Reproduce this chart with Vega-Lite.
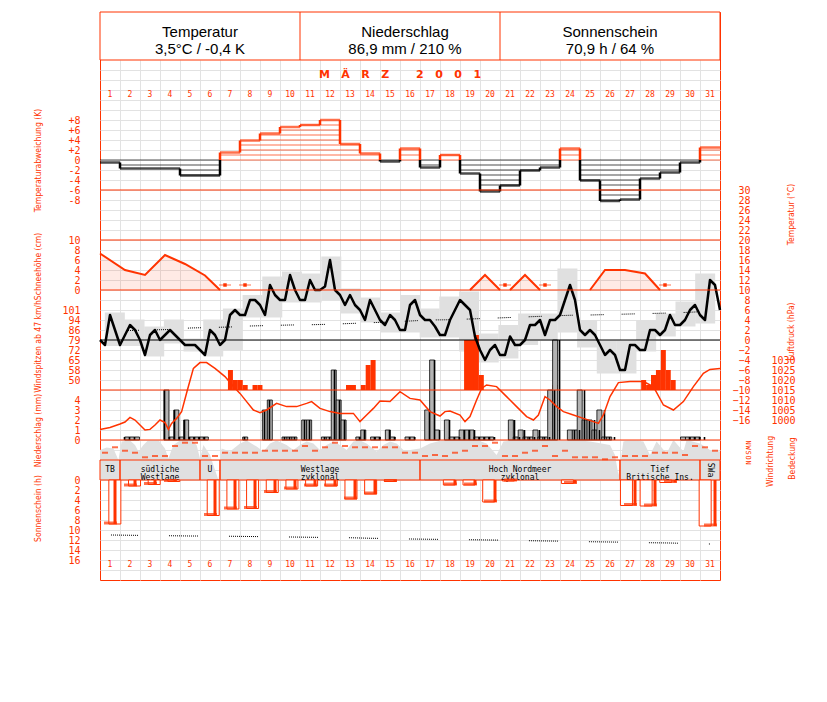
{
"$schema": "https://vega.github.io/schema/vega-lite/v6.json",
"autosize": "none",
"padding": {"left": 100, "top": 12, "right": 107, "bottom": 122},
"width": 620,
"height": 568,
"config": {
  "view": {"stroke": "#ff3300", "strokeWidth": 1},
  "axis": {"ticks": false, "domain": false, "grid": false, "labelColor": "#ff3300", "titleColor": "#ff3300", "labelFont": "DejaVu Sans Mono", "labelFontSize": 10, "titleFont": "Liberation Sans Narrow, Arial Narrow, DejaVu Sans Condensed, Liberation Sans, sans-serif", "titleFontSize": 8.5, "titleFontWeight": "normal", "labelPadding": 2, "labelFlush": false, "labelOverlap": false, "labelBound": false, "titleAngle": -90, "titleBaseline": "middle", "titleAlign": "center", "labelBaseline": "middle"}
},
"datasets": {
  "hdr": [
    {"section": "Temperatur", "summary": "3,5°C / -0,4 K"},
    {"section": "Niederschlag", "summary": "86,9 mm / 210 %"},
    {"section": "Sonnenschein", "summary": "70,9 h / 64 %"}
  ],
  "month": [{"label": "M\u00a0\u00a0\u00a0Ä\u00a0\u00a0\u00a0R\u00a0\u00a0\u00a0Z\u00a0\u00a0\u00a0\u00a0\u00a0\u00a0\u00a02\u00a0\u00a0\u00a00\u00a0\u00a0\u00a00\u00a0\u00a0\u00a01"}],
  "daily": [
    {"day":1,"dev":-0.5,"tmin":-1.2,"tmax":5.5,"tnorm":1.8,"sun":8.8,"sunmax":11.0},
    {"day":2,"dev":-1.7,"tmin":-1.2,"tmax":4.1,"tnorm":1.9,"sun":1.2,"sunmax":11.05},
    {"day":3,"dev":-1.7,"tmin":-3.3,"tmax":2.7,"tnorm":2.0,"sun":0.9,"sunmax":11.1},
    {"day":4,"dev":-1.7,"tmin":-0.7,"tmax":4.1,"tnorm":2.1,"sun":0.3,"sunmax":11.15},
    {"day":5,"dev":-3.1,"tmin":-2.3,"tmax":0.3,"tnorm":2.4,"sun":0,"sunmax":11.2},
    {"day":6,"dev":-3.1,"tmin":-3.3,"tmax":4.1,"tnorm":2.5,"sun":7.1,"sunmax":11.2},
    {"day":7,"dev":1.5,"tmin":-2.0,"tmax":6.3,"tnorm":2.6,"sun":5.8,"sunmax":11.25},
    {"day":8,"dev":3.9,"tmin":4.5,"tmax":9.0,"tnorm":2.8,"sun":5.7,"sunmax":11.3},
    {"day":9,"dev":5.3,"tmin":4.5,"tmax":12.7,"tnorm":2.9,"sun":2.5,"sunmax":11.35},
    {"day":10,"dev":6.6,"tmin":7.5,"tmax":13.7,"tnorm":3.0,"sun":1.8,"sunmax":11.4},
    {"day":11,"dev":7.0,"tmin":7.5,"tmax":13.3,"tnorm":3.05,"sun":1.2,"sunmax":11.45},
    {"day":12,"dev":8.0,"tmin":8.0,"tmax":16.7,"tnorm":3.15,"sun":1.2,"sunmax":11.5},
    {"day":13,"dev":3.2,"tmin":5.3,"tmax":10.3,"tnorm":3.3,"sun":3.8,"sunmax":11.55},
    {"day":14,"dev":1.3,"tmin":3.5,"tmax":8.5,"tnorm":3.45,"sun":2.8,"sunmax":11.65},
    {"day":15,"dev":-0.3,"tmin":1.5,"tmax":5.5,"tnorm":3.6,"sun":0.3,"sunmax":11.7},
    {"day":16,"dev":2.3,"tmin":1.5,"tmax":9.0,"tnorm":3.8,"sun":0,"sunmax":11.8},
    {"day":17,"dev":-1.5,"tmin":0.5,"tmax":6.3,"tnorm":4.0,"sun":0,"sunmax":11.85},
    {"day":18,"dev":1.0,"tmin":0.5,"tmax":8.7,"tnorm":4.05,"sun":1.0,"sunmax":11.9},
    {"day":19,"dev":-2.7,"tmin":-2.3,"tmax":9.7,"tnorm":4.2,"sun":1.0,"sunmax":11.95},
    {"day":20,"dev":-6.3,"tmin":-4.5,"tmax":1.3,"tnorm":4.35,"sun":4.4,"sunmax":12.0},
    {"day":21,"dev":-5.1,"tmin":-3.7,"tmax":3.0,"tnorm":4.5,"sun":0.2,"sunmax":12.05},
    {"day":22,"dev":-2.1,"tmin":-1.0,"tmax":5.3,"tnorm":4.65,"sun":0,"sunmax":12.15},
    {"day":23,"dev":-1.5,"tmin":0.0,"tmax":5.3,"tnorm":4.8,"sun":0,"sunmax":12.2},
    {"day":24,"dev":2.3,"tmin":1.5,"tmax":14.3,"tnorm":4.95,"sun":0.7,"sunmax":12.25},
    {"day":25,"dev":-4.1,"tmin":-1.5,"tmax":4.0,"tnorm":5.0,"sun":0,"sunmax":12.35},
    {"day":26,"dev":-8.2,"tmin":-6.7,"tmax":0.0,"tnorm":5.1,"sun":0,"sunmax":12.4},
    {"day":27,"dev":-7.9,"tmin":-6.7,"tmax":0.0,"tnorm":5.2,"sun":5.1,"sunmax":12.45},
    {"day":28,"dev":-3.7,"tmin":-2.3,"tmax":4.0,"tnorm":5.3,"sun":5.2,"sunmax":12.55},
    {"day":29,"dev":-2.5,"tmin":0.7,"tmax":5.3,"tnorm":5.4,"sun":0.5,"sunmax":12.6},
    {"day":30,"dev":-0.5,"tmin":2.7,"tmax":7.7,"tnorm":5.55,"sun":0,"sunmax":12.7},
    {"day":31,"dev":2.5,"tmin":3.3,"tmax":13.3,"tnorm":5.75,"sun":9.2,"sunmax":12.8}
  ],
  "temp": [
    {"t":0,"T":0},{"t":0.25,"T":-1},{"t":0.5,"T":5},{"t":0.75,"T":2},{"t":1.0,"T":-1},{"t":1.25,"T":1},{"t":1.5,"T":3},{"t":1.75,"T":2},
    {"t":2.0,"T":0},{"t":2.25,"T":-3},{"t":2.5,"T":1},{"t":2.75,"T":2},{"t":3.0,"T":0},{"t":3.25,"T":1},{"t":3.5,"T":2},{"t":3.75,"T":1},
    {"t":4.0,"T":0},{"t":4.25,"T":-1},{"t":4.5,"T":-1},{"t":4.75,"T":-1},{"t":5.0,"T":-2},{"t":5.25,"T":-3},{"t":5.5,"T":2},{"t":5.75,"T":1},
    {"t":6.0,"T":-1},{"t":6.25,"T":0},{"t":6.5,"T":5},{"t":6.75,"T":6},{"t":7.0,"T":5},{"t":7.25,"T":5},{"t":7.5,"T":8},{"t":7.75,"T":8},
    {"t":8.0,"T":7},{"t":8.25,"T":5},{"t":8.5,"T":11},{"t":8.75,"T":9},{"t":9.0,"T":8},{"t":9.25,"T":8},{"t":9.5,"T":13},{"t":9.75,"T":10},
    {"t":10.0,"T":8},{"t":10.25,"T":8},{"t":10.5,"T":12},{"t":10.75,"T":10},{"t":11.0,"T":10},{"t":11.25,"T":10.7},{"t":11.5,"T":16},{"t":11.75,"T":10},
    {"t":12.0,"T":9},{"t":12.25,"T":7},{"t":12.5,"T":9},{"t":12.75,"T":7},{"t":13.0,"T":6},{"t":13.25,"T":4},{"t":13.5,"T":8},{"t":13.75,"T":6},
    {"t":14.0,"T":4},{"t":14.25,"T":3},{"t":14.5,"T":5},{"t":14.75,"T":4},{"t":15.0,"T":2},{"t":15.25,"T":2},{"t":15.5,"T":7},{"t":15.75,"T":8},
    {"t":16.0,"T":5},{"t":16.25,"T":4},{"t":16.5,"T":4},{"t":16.75,"T":2.7},{"t":17.0,"T":1},{"t":17.25,"T":1},{"t":17.5,"T":4},{"t":17.75,"T":6},
    {"t":18.0,"T":8},{"t":18.25,"T":7},{"t":18.5,"T":6},{"t":18.75,"T":0.7},{"t":19.0,"T":-2},{"t":19.25,"T":-4},{"t":19.5,"T":-2},{"t":19.75,"T":-1},
    {"t":20.0,"T":-3},{"t":20.25,"T":-3},{"t":20.5,"T":0.7},{"t":20.75,"T":-1},{"t":21.0,"T":-1},{"t":21.25,"T":0},{"t":21.5,"T":3},{"t":21.75,"T":3},
    {"t":22.0,"T":4},{"t":22.25,"T":1},{"t":22.5,"T":4},{"t":22.75,"T":4},{"t":23.0,"T":5},{"t":23.25,"T":8},{"t":23.5,"T":11},{"t":23.75,"T":8},
    {"t":24.0,"T":2},{"t":24.25,"T":1},{"t":24.5,"T":2},{"t":24.75,"T":1},{"t":25.0,"T":-1},{"t":25.25,"T":-3},{"t":25.5,"T":-2},{"t":25.75,"T":-3},
    {"t":26.0,"T":-6},{"t":26.25,"T":-6},{"t":26.5,"T":-1},{"t":26.75,"T":-1},{"t":27.0,"T":-2},{"t":27.25,"T":-2},{"t":27.5,"T":2},{"t":27.75,"T":2},
    {"t":28.0,"T":1},{"t":28.25,"T":2},{"t":28.5,"T":5},{"t":28.75,"T":3},{"t":29.0,"T":3},{"t":29.25,"T":4},{"t":29.5,"T":6},{"t":29.75,"T":7},
    {"t":30.0,"T":5},{"t":30.25,"T":4},{"t":30.5,"T":12},{"t":30.75,"T":11},{"t":31.0,"T":6}
  ],
  "press": [
    {"t":0,"p":995.3},{"t":0.5,"p":996.3},{"t":1.0,"p":998},{"t":1.25,"p":999},{"t":1.5,"p":1001.3},{"t":1.75,"p":1000},{"t":2.0,"p":997.5},{"t":2.25,"p":995},
    {"t":2.5,"p":995.3},{"t":2.75,"p":997.5},{"t":3.0,"p":1000},{"t":3.25,"p":998.7},{"t":3.42,"p":995.3},{"t":3.58,"p":998.3},{"t":3.83,"p":1000.8},{"t":4.08,"p":1004.2},
    {"t":4.37,"p":1015},{"t":4.67,"p":1025.8},{"t":5.0,"p":1028.7},{"t":5.33,"p":1028.7},{"t":5.75,"p":1025.8},{"t":6.25,"p":1021.7},{"t":6.67,"p":1016.7},{"t":7.0,"p":1013.3},
    {"t":7.33,"p":1009.2},{"t":7.67,"p":1005},{"t":8.0,"p":1003.7},{"t":8.33,"p":1005},{"t":8.83,"p":1008.3},{"t":9.33,"p":1006.7},{"t":9.83,"p":1006.7},{"t":10.33,"p":1008.3},
    {"t":10.58,"p":1009.2},{"t":11.0,"p":1005.8},{"t":11.5,"p":1004.2},{"t":12.0,"p":1003.3},{"t":12.67,"p":1003.3},{"t":13.0,"p":999.2},{"t":13.33,"p":1002.5},{"t":13.67,"p":1005.8},
    {"t":14.0,"p":1009.5},{"t":14.5,"p":1009.2},{"t":15.0,"p":1014.2},{"t":15.5,"p":1010.8},{"t":16.0,"p":1010},{"t":16.5,"p":1004.2},{"t":17.0,"p":1002},{"t":17.25,"p":1004.2},
    {"t":17.5,"p":1004.5},{"t":18.0,"p":1002.5},{"t":18.25,"p":999.2},{"t":18.5,"p":1001.7},{"t":18.83,"p":1010},{"t":19.08,"p":1015.8},{"t":19.33,"p":1017.5},{"t":19.83,"p":1016.7},
    {"t":20.33,"p":1011.7},{"t":20.83,"p":1006.7},{"t":21.33,"p":1001.7},{"t":21.67,"p":1000},{"t":21.92,"p":1002.5},{"t":22.25,"p":1011.7},{"t":22.5,"p":1010},{"t":22.83,"p":1006.7},
    {"t":23.17,"p":1004.2},{"t":23.67,"p":1002.5},{"t":24.17,"p":1000.8},{"t":24.67,"p":999.2},{"t":24.92,"p":998.3},{"t":25.17,"p":1002.5},{"t":25.5,"p":1011.7},{"t":25.92,"p":1018.7},
    {"t":26.5,"p":1019.2},{"t":27.17,"p":1019.2},{"t":27.67,"p":1016.7},{"t":28.17,"p":1007.5},{"t":28.67,"p":1005},{"t":29.17,"p":1009.2},{"t":29.67,"p":1016.7},{"t":30.17,"p":1023.3},
    {"t":30.5,"p":1025.3},{"t":31.0,"p":1025.8}
  ],
  "gust": [
    {"t":6.375,"kmh":57.6},{"t":6.625,"kmh":50.4},{"t":6.875,"kmh":50.4},{"t":7.125,"kmh":46.8},{"t":7.625,"kmh":46.8},{"t":7.875,"kmh":46.8},
    {"t":12.375,"kmh":46.8},{"t":12.625,"kmh":46.8},{"t":13.125,"kmh":46.8},{"t":13.375,"kmh":61.2},{"t":13.625,"kmh":64.8},
    {"t":18.375,"kmh":79.2},{"t":18.625,"kmh":79.2},{"t":18.875,"kmh":82.8},{"t":19.125,"kmh":54},{"t":22.875,"kmh":46.8},
    {"t":27.375,"kmh":50.4},{"t":27.625,"kmh":46.8},{"t":27.875,"kmh":54},{"t":28.125,"kmh":57.6},{"t":28.375,"kmh":72},{"t":28.625,"kmh":57.6},{"t":28.875,"kmh":50.4}
  ],
  "precip": [
    {"t":1.125,"mm":0.3},{"t":1.375,"mm":0.3},{"t":1.625,"mm":0.3},
    {"t":3.125,"mm":5.0},{"t":3.375,"mm":0.3},{"t":3.625,"mm":3.0},{"t":3.875,"mm":0.3},
    {"t":4.125,"mm":2.0},{"t":4.375,"mm":0.3},{"t":4.625,"mm":0.3},{"t":4.875,"mm":0.3},{"t":5.125,"mm":0.3},
    {"t":7.125,"mm":0.3},{"t":8.125,"mm":3.0},{"t":8.375,"mm":4.0},
    {"t":9.125,"mm":0.3},{"t":9.375,"mm":0.3},{"t":9.625,"mm":0.3},{"t":10.125,"mm":2.0},{"t":10.375,"mm":2.0},
    {"t":11.125,"mm":0.3},{"t":11.375,"mm":0.3},{"t":11.625,"mm":7.0},{"t":11.875,"mm":4.0},
    {"t":12.125,"mm":2.0},{"t":12.875,"mm":0.3},{"t":13.125,"mm":1.0},{"t":13.625,"mm":0.3},{"t":13.875,"mm":0.3},
    {"t":14.375,"mm":1.0},{"t":14.625,"mm":0.3},{"t":15.375,"mm":0.3},{"t":15.625,"mm":0.3},
    {"t":16.375,"mm":3.0},{"t":16.625,"mm":8.0},{"t":16.875,"mm":1.0},
    {"t":17.375,"mm":2.0},{"t":17.625,"mm":0.3},{"t":17.875,"mm":0.3},
    {"t":18.125,"mm":1.0},{"t":18.375,"mm":1.0},{"t":18.625,"mm":1.0},{"t":18.875,"mm":0.3},
    {"t":19.125,"mm":0.3},{"t":19.375,"mm":0.3},{"t":19.625,"mm":0.3},
    {"t":20.625,"mm":2.0},{"t":20.875,"mm":0.3},
    {"t":21.125,"mm":1.0},{"t":21.375,"mm":0.3},{"t":21.625,"mm":0.3},{"t":21.875,"mm":1.0},
    {"t":22.125,"mm":0.3},{"t":22.375,"mm":0.3},{"t":22.625,"mm":5.0},{"t":22.875,"mm":10.0},
    {"t":23.625,"mm":1.0},{"t":23.875,"mm":1.0},
    {"t":24.125,"mm":5.0},{"t":24.375,"mm":2.0},{"t":24.625,"mm":2.0},{"t":24.875,"mm":1.0},
    {"t":25.125,"mm":3.0},{"t":25.375,"mm":0.3},{"t":25.625,"mm":0.3},
    {"t":29.375,"mm":0.3},{"t":29.625,"mm":0.3},{"t":29.875,"mm":0.3},{"t":30.125,"mm":0.3}
  ],
  "snow": [
    {"ep":1,"t":0,"cm":7.3},{"ep":1,"t":1.25,"cm":4.0},{"ep":1,"t":2.25,"cm":3.0},{"ep":1,"t":3.25,"cm":7.0},{"ep":1,"t":4.25,"cm":5.2},{"ep":1,"t":5.25,"cm":2.9},{"ep":1,"t":6.0,"cm":0},
    {"ep":2,"t":18.5,"cm":0},{"ep":2,"t":19.25,"cm":3},{"ep":2,"t":20.0,"cm":0},
    {"ep":3,"t":20.5,"cm":0},{"ep":3,"t":21.25,"cm":3},{"ep":3,"t":22.0,"cm":0},
    {"ep":4,"t":24.5,"cm":0},{"ep":4,"t":25.25,"cm":4},{"ep":4,"t":26.25,"cm":4},{"ep":4,"t":27.25,"cm":3.3},{"ep":4,"t":28.0,"cm":0}
  ],
  "patches": [{"t":6.25,"cm":1},{"t":7.25,"cm":1},{"t":20.25,"cm":1},{"t":22.25,"cm":1},{"t":28.25,"cm":1}],
  "wind": [
    {"t":0.25,"dir":167},{"t":0.75,"dir":265},{"t":1.25,"dir":203},{"t":1.75,"dir":167},{"t":2.25,"dir":85},{"t":2.75,"dir":108},{"t":3.25,"dir":108},{"t":3.75,"dir":288},
    {"t":4.25,"dir":347},{"t":4.75,"dir":347},{"t":5.25,"dir":108},{"t":5.75,"dir":108},{"t":6.25,"dir":167},{"t":6.75,"dir":167},{"t":7.25,"dir":167},{"t":7.75,"dir":167},
    {"t":8.25,"dir":203},{"t":8.75,"dir":203},{"t":9.25,"dir":203},{"t":9.75,"dir":203},{"t":10.25,"dir":288},{"t":10.75,"dir":203},{"t":11.25,"dir":265},{"t":11.75,"dir":347},
    {"t":12.25,"dir":288},{"t":12.75,"dir":265},{"t":13.25,"dir":265},{"t":13.75,"dir":265},{"t":14.25,"dir":265},{"t":14.75,"dir":265},{"t":15.25,"dir":167},{"t":15.75,"dir":167},
    {"t":16.25,"dir":108},{"t":16.75,"dir":126},{"t":17.25,"dir":108},{"t":17.75,"dir":167},{"t":18.25,"dir":203},{"t":18.75,"dir":288},{"t":19.25,"dir":288},{"t":19.75,"dir":347},
    {"t":20.25,"dir":108},{"t":20.75,"dir":108},{"t":21.25,"dir":167},{"t":21.75,"dir":203},{"t":22.25,"dir":288},{"t":22.75,"dir":108},{"t":23.25,"dir":203},{"t":23.75,"dir":85},
    {"t":24.25,"dir":85},{"t":24.75,"dir":85},{"t":25.25,"dir":49},{"t":25.75,"dir":85},{"t":26.25,"dir":108},{"t":26.75,"dir":108},{"t":27.25,"dir":108},{"t":27.75,"dir":167},
    {"t":28.25,"dir":167},{"t":28.75,"dir":167},{"t":29.25,"dir":126},{"t":29.75,"dir":288},{"t":30.25,"dir":265},{"t":30.75,"dir":203}
  ],
  "cloud": [
    {"t":0,"octa":6},{"t":0.33,"octa":6.5},{"t":0.67,"octa":6.3},{"t":0.92,"octa":4},{"t":1.08,"octa":7.7},{"t":1.5,"octa":7.9},{"t":1.75,"octa":7},{"t":1.92,"octa":5.7},
    {"t":2.17,"octa":7},{"t":2.42,"octa":8},{"t":2.92,"octa":8},{"t":3.25,"octa":6.3},{"t":3.42,"octa":4.3},{"t":3.67,"octa":7},{"t":4.0,"octa":7.9},{"t":4.58,"octa":7.9},
    {"t":4.83,"octa":7},{"t":5.0,"octa":4.3},{"t":5.17,"octa":7},{"t":5.5,"octa":5},{"t":5.92,"octa":0},{"t":6.08,"octa":6.3},{"t":6.5,"octa":5.7},{"t":7.0,"octa":7.3},
    {"t":7.33,"octa":7.9},{"t":7.83,"octa":6.7},{"t":8.17,"octa":5.7},{"t":8.5,"octa":7.3},{"t":8.83,"octa":7.9},{"t":9.33,"octa":7},{"t":9.67,"octa":6},{"t":10.0,"octa":7},
    {"t":10.33,"octa":7.7},{"t":10.67,"octa":7.3},{"t":11.0,"octa":6},{"t":11.33,"octa":7},{"t":11.67,"octa":7.7},{"t":12.0,"octa":7},{"t":12.33,"octa":6},{"t":12.67,"octa":7.7},
    {"t":13.0,"octa":7.9},{"t":13.33,"octa":7.3},{"t":13.83,"octa":5.7},{"t":14.17,"octa":7},{"t":14.5,"octa":7.7},{"t":14.83,"octa":7.3},{"t":15.17,"octa":6},{"t":15.5,"octa":6},
    {"t":16.0,"octa":6.3},{"t":16.5,"octa":7.3},{"t":17.17,"octa":8},{"t":17.67,"octa":8},{"t":18.17,"octa":8},{"t":18.83,"octa":8},{"t":19.33,"octa":7.3},{"t":19.83,"octa":5},
    {"t":20.17,"octa":7.7},{"t":20.83,"octa":8},{"t":21.83,"octa":8},{"t":22.5,"octa":8},{"t":23.17,"octa":8},{"t":23.83,"octa":8},{"t":24.5,"octa":7.7},{"t":25.5,"octa":7},
    {"t":25.75,"octa":5},{"t":25.92,"octa":1},{"t":26.17,"octa":7.7},{"t":26.5,"octa":8},{"t":27.17,"octa":7.7},{"t":27.5,"octa":5},{"t":27.83,"octa":7.7},{"t":28.33,"octa":5.3},
    {"t":28.67,"octa":8},{"t":29.17,"octa":5.7},{"t":29.33,"octa":8},{"t":30.0,"octa":7.3},{"t":30.5,"octa":6},{"t":31.0,"octa":5.7}
  ],
  "types": [
    {"label":"TB","from":0,"to":1},
    {"label":"südliche\nWestlage","from":1,"to":5},
    {"label":"U","from":5,"to":6},
    {"label":"Westlage\nzyklonal","from":6,"to":16},
    {"label":"Hoch Nordmeer\nzyklonal","from":16,"to":26},
    {"label":"Tief\nBritische Ins.","from":26,"to":30},
    {"label":"SWa","from":30,"to":31}
  ]
},
"resolve": {"scale": {"x": "independent", "y": "independent"}},
"layer": [
  {"data": {"values": [{"g": 0}]}, "mark": {"type": "point", "opacity": 0},
   "encoding": {
     "x": {"field": "g", "type": "quantitative", "scale": {"domain": [0, 31], "nice": false, "zero": false}, "axis": {"orient": "top", "values": [1,2,3,4,5,6,7,8,9,10,11,12,13,14,15,16,17,18,19,20,21,22,23,24,25,26,27,28,29,30], "grid": true, "gridColor": "#e2e2e2", "labels": false, "title": null}},
     "y": {"field": "g", "type": "quantitative", "scale": {"domain": [0, 52], "range": [48, 568], "nice": false, "zero": false}, "axis": {"orient": "left", "values": [1,2,3,4,5,6,7,8,9,10,11,12,13,14,15,16,17,18,19,20,21,22,23,24,25,26,27,28,29,30,31,32,33,34,35,36,37,38,39,40,41,42,43,44,45,46,47,48,49,50,51], "grid": true, "gridColor": "#e2e2e2", "labels": false, "title": null}}}},

  {"data": {"values": [{}]}, "mark": {"type": "rect", "color": "white"},
   "encoding": {"y": {"datum": 0, "type": "quantitative", "scale": {"domain": [0, 1], "range": [0, 48], "nice": false, "zero": false}, "axis": null}, "y2": {"datum": 1}}},
  {"data": {"values": [{}]}, "mark": {"type": "rect", "filled": false, "color": "#ff3300", "strokeWidth": 1},
   "encoding": {"y": {"datum": 0, "type": "quantitative", "scale": {"domain": [0, 1], "range": [0, 48], "nice": false, "zero": false}, "axis": null}, "y2": {"datum": 1}}},
  {"data": {"values": [{}]}, "mark": {"type": "rule", "color": "#ff3300", "strokeWidth": 1},
   "encoding": {"x": {"datum": 10, "type": "quantitative", "scale": {"domain": [0, 31], "nice": false, "zero": false}, "axis": null},
     "y": {"datum": 0, "type": "quantitative", "scale": {"domain": [0, 1], "range": [0, 48], "nice": false, "zero": false}, "axis": null}, "y2": {"datum": 1}}},
  {"data": {"values": [{}]}, "mark": {"type": "rule", "color": "#ff3300", "strokeWidth": 1},
   "encoding": {"x": {"datum": 20, "type": "quantitative", "scale": {"domain": [0, 31], "nice": false, "zero": false}, "axis": null},
     "y": {"datum": 0, "type": "quantitative", "scale": {"domain": [0, 1], "range": [0, 48], "nice": false, "zero": false}, "axis": null}, "y2": {"datum": 1}}},
  {"data": {"name": "hdr"}, "transform": [{"fold": ["section", "summary"], "as": ["line", "txt"]}],
   "mark": {"type": "text", "font": "Liberation Sans", "fontSize": 15, "color": "black", "baseline": "middle", "align": "center"},
   "encoding": {
     "x": {"field": "section", "type": "nominal", "scale": {"type": "point", "domain": ["Temperatur", "Niederschlag", "Sonnenschein"], "range": [100, 510], "padding": 0}, "axis": null},
     "y": {"field": "line", "type": "nominal", "scale": {"type": "point", "domain": ["section", "summary"], "range": [20, 37], "padding": 0}, "axis": null},
     "text": {"field": "txt"}}},

  {"data": {"name": "cloud"}, "mark": {"type": "area", "color": "#e0e0e0"},
   "encoding": {
     "x": {"field": "t", "type": "quantitative", "scale": {"domain": [0, 31], "nice": false, "zero": false}, "axis": null},
     "y": {"field": "octa", "type": "quantitative", "scale": {"domain": [0, 8], "range": [468, 428], "nice": false, "zero": false}, "axis": {"orient": "right", "labels": false, "title": "Bedeckung", "titleX": 71, "titleY": 446}},
     "y2": {"datum": 0}}},

  {"data": {"name": "daily"}, "mark": {"type": "bar", "width": 20, "color": "#e0e0e0"},
   "encoding": {
     "x": {"field": "day", "type": "quantitative", "scale": {"domain": [0.5, 31.5], "nice": false, "zero": false}, "axis": null},
     "y": {"field": "tmin", "type": "quantitative", "scale": {"domain": [-16, 30], "range": [408, 178], "nice": false, "zero": false}, "axis": {"orient": "right", "values": [30,28,26,24,22,20,18,16,14,12,10,8,6,4,2,0,-2,-4,-6,-8,-10,-12,-14,-16], "labelAlign": "right", "labelPadding": 30, "title": "Temperatur (°C)", "titleX": 70, "titleY": 202}},
     "y2": {"field": "tmax"}}},

  {"data": {"name": "daily"}, "mark": {"type": "tick", "orient": "horizontal", "size": 20, "thickness": 1, "color": "#ff3300"}, "transform": [{"filter": "datum.dev > 0"}], "encoding": {"x": {"field": "day", "type": "quantitative", "scale": {"domain": [0.5, 31.5], "nice": false, "zero": false}, "axis": null}, "y": {"datum": 0, "type": "quantitative", "scale": {"domain": [-8, 8], "range": [188, 108], "nice": false, "zero": false}, "axis": null}}},
  {"data": {"name": "daily"}, "mark": {"type": "tick", "orient": "horizontal", "size": 20, "thickness": 1, "color": "#ff3300"}, "transform": [{"filter": "datum.dev >= 1"}], "encoding": {"x": {"field": "day", "type": "quantitative", "scale": {"domain": [0.5, 31.5], "nice": false, "zero": false}, "axis": null}, "y": {"datum": 1, "type": "quantitative", "scale": {"domain": [-8, 8], "range": [188, 108], "nice": false, "zero": false}, "axis": null}}},
  {"data": {"name": "daily"}, "mark": {"type": "tick", "orient": "horizontal", "size": 20, "thickness": 1, "color": "#ff3300"}, "transform": [{"filter": "datum.dev >= 2"}], "encoding": {"x": {"field": "day", "type": "quantitative", "scale": {"domain": [0.5, 31.5], "nice": false, "zero": false}, "axis": null}, "y": {"datum": 2, "type": "quantitative", "scale": {"domain": [-8, 8], "range": [188, 108], "nice": false, "zero": false}, "axis": null}}},
  {"data": {"name": "daily"}, "mark": {"type": "tick", "orient": "horizontal", "size": 20, "thickness": 1, "color": "#ff3300"}, "transform": [{"filter": "datum.dev >= 3"}], "encoding": {"x": {"field": "day", "type": "quantitative", "scale": {"domain": [0.5, 31.5], "nice": false, "zero": false}, "axis": null}, "y": {"datum": 3, "type": "quantitative", "scale": {"domain": [-8, 8], "range": [188, 108], "nice": false, "zero": false}, "axis": null}}},
  {"data": {"name": "daily"}, "mark": {"type": "tick", "orient": "horizontal", "size": 20, "thickness": 1, "color": "#ff3300"}, "transform": [{"filter": "datum.dev >= 4"}], "encoding": {"x": {"field": "day", "type": "quantitative", "scale": {"domain": [0.5, 31.5], "nice": false, "zero": false}, "axis": null}, "y": {"datum": 4, "type": "quantitative", "scale": {"domain": [-8, 8], "range": [188, 108], "nice": false, "zero": false}, "axis": null}}},
  {"data": {"name": "daily"}, "mark": {"type": "tick", "orient": "horizontal", "size": 20, "thickness": 1, "color": "#ff3300"}, "transform": [{"filter": "datum.dev >= 5"}], "encoding": {"x": {"field": "day", "type": "quantitative", "scale": {"domain": [0.5, 31.5], "nice": false, "zero": false}, "axis": null}, "y": {"datum": 5, "type": "quantitative", "scale": {"domain": [-8, 8], "range": [188, 108], "nice": false, "zero": false}, "axis": null}}},
  {"data": {"name": "daily"}, "mark": {"type": "tick", "orient": "horizontal", "size": 20, "thickness": 1, "color": "#ff3300"}, "transform": [{"filter": "datum.dev >= 6"}], "encoding": {"x": {"field": "day", "type": "quantitative", "scale": {"domain": [0.5, 31.5], "nice": false, "zero": false}, "axis": null}, "y": {"datum": 6, "type": "quantitative", "scale": {"domain": [-8, 8], "range": [188, 108], "nice": false, "zero": false}, "axis": null}}},
  {"data": {"name": "daily"}, "mark": {"type": "tick", "orient": "horizontal", "size": 20, "thickness": 1, "color": "#ff3300"}, "transform": [{"filter": "datum.dev >= 7"}], "encoding": {"x": {"field": "day", "type": "quantitative", "scale": {"domain": [0.5, 31.5], "nice": false, "zero": false}, "axis": null}, "y": {"datum": 7, "type": "quantitative", "scale": {"domain": [-8, 8], "range": [188, 108], "nice": false, "zero": false}, "axis": null}}},
  {"data": {"name": "daily"}, "mark": {"type": "tick", "orient": "horizontal", "size": 20, "thickness": 1, "color": "black"}, "transform": [{"filter": "datum.dev <= 0"}], "encoding": {"x": {"field": "day", "type": "quantitative", "scale": {"domain": [0.5, 31.5], "nice": false, "zero": false}, "axis": null}, "y": {"datum": 0, "type": "quantitative", "scale": {"domain": [-8, 8], "range": [188, 108], "nice": false, "zero": false}, "axis": null}}},
  {"data": {"name": "daily"}, "mark": {"type": "tick", "orient": "horizontal", "size": 20, "thickness": 1, "color": "black"}, "transform": [{"filter": "datum.dev <= -1"}], "encoding": {"x": {"field": "day", "type": "quantitative", "scale": {"domain": [0.5, 31.5], "nice": false, "zero": false}, "axis": null}, "y": {"datum": -1, "type": "quantitative", "scale": {"domain": [-8, 8], "range": [188, 108], "nice": false, "zero": false}, "axis": null}}},
  {"data": {"name": "daily"}, "mark": {"type": "tick", "orient": "horizontal", "size": 20, "thickness": 1, "color": "black"}, "transform": [{"filter": "datum.dev <= -2"}], "encoding": {"x": {"field": "day", "type": "quantitative", "scale": {"domain": [0.5, 31.5], "nice": false, "zero": false}, "axis": null}, "y": {"datum": -2, "type": "quantitative", "scale": {"domain": [-8, 8], "range": [188, 108], "nice": false, "zero": false}, "axis": null}}},
  {"data": {"name": "daily"}, "mark": {"type": "tick", "orient": "horizontal", "size": 20, "thickness": 1, "color": "black"}, "transform": [{"filter": "datum.dev <= -3"}], "encoding": {"x": {"field": "day", "type": "quantitative", "scale": {"domain": [0.5, 31.5], "nice": false, "zero": false}, "axis": null}, "y": {"datum": -3, "type": "quantitative", "scale": {"domain": [-8, 8], "range": [188, 108], "nice": false, "zero": false}, "axis": null}}},
  {"data": {"name": "daily"}, "mark": {"type": "tick", "orient": "horizontal", "size": 20, "thickness": 1, "color": "black"}, "transform": [{"filter": "datum.dev <= -4"}], "encoding": {"x": {"field": "day", "type": "quantitative", "scale": {"domain": [0.5, 31.5], "nice": false, "zero": false}, "axis": null}, "y": {"datum": -4, "type": "quantitative", "scale": {"domain": [-8, 8], "range": [188, 108], "nice": false, "zero": false}, "axis": null}}},
  {"data": {"name": "daily"}, "mark": {"type": "tick", "orient": "horizontal", "size": 20, "thickness": 1, "color": "black"}, "transform": [{"filter": "datum.dev <= -5"}], "encoding": {"x": {"field": "day", "type": "quantitative", "scale": {"domain": [0.5, 31.5], "nice": false, "zero": false}, "axis": null}, "y": {"datum": -5, "type": "quantitative", "scale": {"domain": [-8, 8], "range": [188, 108], "nice": false, "zero": false}, "axis": null}}},
  {"data": {"name": "daily"}, "mark": {"type": "tick", "orient": "horizontal", "size": 20, "thickness": 1, "color": "black"}, "transform": [{"filter": "datum.dev <= -6"}], "encoding": {"x": {"field": "day", "type": "quantitative", "scale": {"domain": [0.5, 31.5], "nice": false, "zero": false}, "axis": null}, "y": {"datum": -6, "type": "quantitative", "scale": {"domain": [-8, 8], "range": [188, 108], "nice": false, "zero": false}, "axis": null}}},
  {"data": {"name": "daily"}, "mark": {"type": "tick", "orient": "horizontal", "size": 20, "thickness": 1, "color": "black"}, "transform": [{"filter": "datum.dev <= -7"}], "encoding": {"x": {"field": "day", "type": "quantitative", "scale": {"domain": [0.5, 31.5], "nice": false, "zero": false}, "axis": null}, "y": {"datum": -7, "type": "quantitative", "scale": {"domain": [-8, 8], "range": [188, 108], "nice": false, "zero": false}, "axis": null}}},
  {"data": {"name": "daily"}, "mark": {"type": "tick", "orient": "horizontal", "size": 20, "thickness": 1, "color": "black"}, "transform": [{"filter": "datum.dev <= -8"}], "encoding": {"x": {"field": "day", "type": "quantitative", "scale": {"domain": [0.5, 31.5], "nice": false, "zero": false}, "axis": null}, "y": {"datum": -8, "type": "quantitative", "scale": {"domain": [-8, 8], "range": [188, 108], "nice": false, "zero": false}, "axis": null}}},

  {"data": {"name": "daily"}, "transform": [{"filter": "datum.dev > 0"}], "mark": {"type": "tick", "orient": "horizontal", "size": 20, "thickness": 2.5, "color": "#ff3300"},
   "encoding": {"x": {"field": "day", "type": "quantitative", "scale": {"domain": [0.5, 31.5], "nice": false, "zero": false}, "axis": null},
     "y": {"field": "dev", "type": "quantitative", "scale": {"domain": [-8, 8], "range": [188, 108], "nice": false, "zero": false}, "axis": {"orient": "left", "offset": 18, "values": [-8,-6,-4,-2,0,2,4,6,8], "labelExpr": "datum.value > 0 ? '+' + datum.value : '' + datum.value", "title": "Temperaturabweichung (K)", "titleX": -45, "titleY": 148}}}},
  {"data": {"name": "daily"}, "transform": [{"filter": "datum.dev <= 0"}], "mark": {"type": "tick", "orient": "horizontal", "size": 20, "thickness": 2.5, "color": "black"},
   "encoding": {"x": {"field": "day", "type": "quantitative", "scale": {"domain": [0.5, 31.5], "nice": false, "zero": false}, "axis": null},
     "y": {"field": "dev", "type": "quantitative", "scale": {"domain": [-8, 8], "range": [188, 108], "nice": false, "zero": false}, "axis": null}}},
  {"data": {"name": "daily"}, "transform": [{"window": [{"op": "lead", "field": "dev", "as": "next"}], "sort": [{"field": "day", "order": "ascending"}]}, {"filter": "datum.next != null"}],
   "mark": {"type": "rule", "strokeWidth": 2.5, "color": "#ff3300"},
   "encoding": {"x": {"field": "day", "type": "quantitative", "scale": {"domain": [0.5, 31.5], "nice": false, "zero": false}, "axis": null}, "xOffset": {"value": 10},
     "y": {"field": "dev", "type": "quantitative", "scale": {"domain": [0, 10], "range": [148, 98], "clamp": true, "nice": false, "zero": false}, "axis": null}, "y2": {"field": "next"}}},
  {"data": {"name": "daily"}, "transform": [{"window": [{"op": "lead", "field": "dev", "as": "next"}], "sort": [{"field": "day", "order": "ascending"}]}, {"filter": "datum.next != null"}],
   "mark": {"type": "rule", "strokeWidth": 2.5, "color": "black"},
   "encoding": {"x": {"field": "day", "type": "quantitative", "scale": {"domain": [0.5, 31.5], "nice": false, "zero": false}, "axis": null}, "xOffset": {"value": 10},
     "y": {"field": "dev", "type": "quantitative", "scale": {"domain": [-10, 0], "range": [198, 148], "clamp": true, "nice": false, "zero": false}, "axis": null}, "y2": {"field": "next"}}},

  {"data": {"name": "snow"}, "mark": {"type": "area", "color": "#ff3300", "opacity": 0.1},
   "encoding": {"x": {"field": "t", "type": "quantitative", "scale": {"domain": [0, 31], "nice": false, "zero": false}, "axis": null},
     "y": {"field": "cm", "type": "quantitative", "scale": {"domain": [0, 10], "range": [278, 228], "nice": false, "zero": false}, "axis": null}, "y2": {"datum": 0}, "detail": {"field": "ep"}}},
  {"data": {"name": "snow"}, "mark": {"type": "line", "color": "#ff3300", "strokeWidth": 2},
   "encoding": {"x": {"field": "t", "type": "quantitative", "scale": {"domain": [0, 31], "nice": false, "zero": false}, "axis": null},
     "y": {"field": "cm", "type": "quantitative", "scale": {"domain": [0, 10], "range": [278, 228], "nice": false, "zero": false}, "axis": {"orient": "left", "offset": 18, "values": [0,2,4,6,8,10], "title": "Schneehöhe (cm)", "titleX": -45, "titleY": 254}}, "detail": {"field": "ep"}}},
  {"data": {"name": "patches"}, "mark": {"type": "tick", "orient": "horizontal", "size": 12, "thickness": 1, "color": "#ff3300"},
   "encoding": {"x": {"field": "t", "type": "quantitative", "scale": {"domain": [0, 31], "nice": false, "zero": false}, "axis": null},
     "y": {"field": "cm", "type": "quantitative", "scale": {"domain": [0, 10], "range": [278, 228], "nice": false, "zero": false}, "axis": null}}},
  {"data": {"name": "patches"}, "mark": {"type": "square", "size": 12, "color": "#ff3300", "opacity": 1},
   "encoding": {"x": {"field": "t", "type": "quantitative", "scale": {"domain": [0, 31], "nice": false, "zero": false}, "axis": null},
     "y": {"field": "cm", "type": "quantitative", "scale": {"domain": [0, 10], "range": [278, 228], "nice": false, "zero": false}, "axis": null}}},

  {"data": {"name": "gust"}, "mark": {"type": "bar", "width": 5, "color": "#ff3300"},
   "encoding": {"x": {"field": "t", "type": "quantitative", "scale": {"domain": [0, 31], "nice": false, "zero": false}, "axis": null},
     "y": {"field": "kmh", "type": "quantitative", "scale": {"domain": [43.2, 100.8], "range": [378, 298], "nice": false, "zero": false}, "axis": {"orient": "left", "offset": 18, "values": [50.4,57.6,64.8,72,79.2,86.4,93.6,100.8], "format": ".0f", "title": "Windspitzen ab 47 km/h", "titleX": -45, "titleY": 334}},
     "y2": {"datum": 43.2}}},

  {"data": {"name": "precip"}, "mark": {"type": "bar", "width": 5, "fill": "#b4b4b4", "stroke": "black", "strokeWidth": 0.8},
   "encoding": {"x": {"field": "t", "type": "quantitative", "scale": {"domain": [0, 31], "nice": false, "zero": false}, "axis": null},
     "y": {"field": "mm", "type": "quantitative", "scale": {"domain": [0, 4], "range": [428, 388], "nice": false, "zero": false}, "axis": {"orient": "left", "offset": 18, "values": [0,1,2,3,4], "title": "Niederschlag (mm)", "titleX": -45, "titleY": 418}},
     "y2": {"datum": 0}}},
  {"data": {"name": "precip"}, "mark": {"type": "rule", "strokeWidth": 1.6, "color": "black"},
   "encoding": {"x": {"field": "t", "type": "quantitative", "scale": {"domain": [0, 31], "nice": false, "zero": false}, "axis": null}, "xOffset": {"value": 2},
     "y": {"field": "mm", "type": "quantitative", "scale": {"domain": [0, 4], "range": [428, 388], "nice": false, "zero": false}, "axis": null}, "y2": {"datum": 0}}},

  {"data": {"name": "press"}, "mark": {"type": "line", "color": "#ff3300", "strokeWidth": 1.5},
   "encoding": {"x": {"field": "t", "type": "quantitative", "scale": {"domain": [0, 31], "nice": false, "zero": false}, "axis": null},
     "y": {"field": "p", "type": "quantitative", "scale": {"domain": [1000, 1030], "range": [408, 348], "nice": false, "zero": false}, "axis": {"orient": "right", "values": [1000,1005,1010,1015,1020,1025,1030], "format": "d", "labelAlign": "right", "labelPadding": 75, "title": "Luftdruck (hPa)", "titleX": 70, "titleY": 319}}}},

  {"data": {"name": "daily"}, "mark": {"type": "line", "color": "black", "strokeWidth": 1, "strokeDash": [1,1,1,1,1,1,1,1,1,1,1,1,1,18], "strokeDashOffset": 15, "strokeCap": "butt"},
   "encoding": {"x": {"field": "day", "type": "quantitative", "scale": {"domain": [0.5, 31.5], "nice": false, "zero": false}, "axis": null},
     "y": {"field": "tnorm", "type": "quantitative", "scale": {"domain": [-16, 30], "range": [408, 178], "nice": false, "zero": false}, "axis": null}}},
  {"data": {"name": "temp"}, "mark": {"type": "line", "color": "black", "strokeWidth": 2.5, "strokeJoin": "round"},
   "encoding": {"x": {"field": "t", "type": "quantitative", "scale": {"domain": [0, 31], "nice": false, "zero": false}, "axis": null},
     "y": {"field": "T", "type": "quantitative", "scale": {"domain": [-16, 30], "range": [408, 178], "nice": false, "zero": false}, "axis": null}}},

  {"data": {"values": [{"lvl": 30}, {"lvl": 20}, {"lvl": 10}, {"lvl": -10}]}, "mark": {"type": "rule", "color": "#ff3300", "strokeWidth": 1},
   "encoding": {"y": {"field": "lvl", "type": "quantitative", "scale": {"domain": [-16, 30], "range": [408, 178], "nice": false, "zero": false}, "axis": null}}},
  {"data": {"values": [{"lvl": 0}]}, "mark": {"type": "rule", "color": "black", "strokeWidth": 1},
   "encoding": {"y": {"field": "lvl", "type": "quantitative", "scale": {"domain": [-16, 30], "range": [408, 178], "nice": false, "zero": false}, "axis": null}}},
  {"data": {"values": [{"mm": 0}]}, "mark": {"type": "rule", "color": "#ff3300", "strokeWidth": 1},
   "encoding": {"y": {"field": "mm", "type": "quantitative", "scale": {"domain": [0, 4], "range": [428, 388], "nice": false, "zero": false}, "axis": null}}},

  {"data": {"name": "wind"}, "mark": {"type": "tick", "orient": "horizontal", "size": 6, "thickness": 2, "color": "#ff3300"},
   "encoding": {"x": {"field": "t", "type": "quantitative", "scale": {"domain": [0, 31], "nice": false, "zero": false}, "axis": null},
     "y": {"field": "dir", "type": "quantitative", "scale": {"domain": [0, 360], "range": [450, 430], "nice": false, "zero": false}, "axis": {"orient": "right", "values": [0, 90, 180, 270, 360], "labelExpr": "datum.value == 90 ? 'O' : datum.value == 180 ? 'S' : datum.value == 270 ? 'W' : 'N'", "labelAngle": 90, "labelFontSize": 7, "labelAlign": "center", "labelPadding": 27, "title": "Windrichtung", "titleX": 49, "titleY": 449}}}},

  {"data": {"name": "types"}, "mark": {"type": "rect", "filled": false, "color": "#ff3300", "strokeWidth": 1},
   "encoding": {"x": {"field": "from", "type": "quantitative", "scale": {"domain": [0, 31], "nice": false, "zero": false}, "axis": null}, "x2": {"field": "to"},
     "y": {"datum": 0, "type": "quantitative", "scale": {"domain": [0, 1], "range": [468, 448], "nice": false, "zero": false}, "axis": null}, "y2": {"datum": 1}}},
  {"data": {"name": "types"}, "transform": [{"fold": ["from", "to"], "as": ["edge", "tt"]}, {"aggregate": [{"op": "mean", "field": "tt", "as": "mid"}], "groupby": ["label"]}],
   "mark": {"type": "text", "font": "DejaVu Sans Mono", "fontSize": 8, "color": "black", "lineBreak": "\n", "lineHeight": 8, "baseline": "middle", "align": "center"},
   "encoding": {"x": {"field": "mid", "type": "quantitative", "scale": {"domain": [0, 31], "nice": false, "zero": false}, "axis": null},
     "y": {"datum": 0.5, "type": "quantitative", "scale": {"domain": [0, 1], "range": [468, 448], "nice": false, "zero": false}, "axis": null},
     "text": {"field": "label"},
     "angle": {"condition": {"test": "datum.label === 'SWa'", "value": 90}, "value": 0}}},

  {"data": {"name": "daily"}, "transform": [{"filter": "datum.sun > 0"}], "mark": {"type": "bar", "width": 12, "fill": "white", "stroke": "#ff3300", "strokeWidth": 1},
   "encoding": {"x": {"field": "day", "type": "quantitative", "scale": {"domain": [0.5, 31.5], "nice": false, "zero": false}, "axis": null},
     "y": {"field": "sun", "type": "quantitative", "scale": {"domain": [0, 16], "range": [468, 548], "nice": false, "zero": false}, "axis": {"orient": "left", "offset": 18, "values": [0,2,4,6,8,10,12,14,16], "title": "Sonnenschein (h)", "titleX": -45, "titleY": 496}},
     "y2": {"datum": 0}}},
  {"data": {"name": "daily"}, "transform": [{"filter": "datum.sun > 0"}], "mark": {"type": "rule", "strokeWidth": 3, "color": "#ff3300"},
   "encoding": {"x": {"field": "day", "type": "quantitative", "scale": {"domain": [0.5, 31.5], "nice": false, "zero": false}, "axis": null}, "xOffset": {"value": 5},
     "y": {"field": "sun", "type": "quantitative", "scale": {"domain": [0, 16], "range": [468, 548], "nice": false, "zero": false}, "axis": null}, "y2": {"datum": 0}}},
  {"data": {"name": "daily"}, "transform": [{"filter": "datum.sun > 0"}], "mark": {"type": "tick", "orient": "horizontal", "size": 13, "thickness": 3, "color": "#ff3300"},
   "encoding": {"x": {"field": "day", "type": "quantitative", "scale": {"domain": [0.5, 31.5], "nice": false, "zero": false}, "axis": null}, "xOffset": {"value": 0.5}, "yOffset": {"value": -1},
     "y": {"field": "sun", "type": "quantitative", "scale": {"domain": [0, 16], "range": [468, 548], "nice": false, "zero": false}, "axis": null}}},
  {"data": {"name": "daily"}, "mark": {"type": "line", "color": "black", "strokeWidth": 1, "strokeDash": [1,1,1,1,1,1,1,1,1,1,1,1,1,1,1,1,1,1,1,1,1,1,1,1,1,1,1,1,1,31], "strokeDashOffset": 1, "strokeCap": "butt"},
   "encoding": {"x": {"field": "day", "type": "quantitative", "scale": {"domain": [0.5, 31.5], "nice": false, "zero": false}, "axis": null},
     "y": {"field": "sunmax", "type": "quantitative", "scale": {"domain": [0, 16], "range": [468, 548], "nice": false, "zero": false}, "axis": null}}},

  {"data": {"name": "daily"}, "mark": {"type": "text", "font": "DejaVu Sans Mono", "fontSize": 8, "color": "#ff3300", "baseline": "middle", "align": "center"},
   "encoding": {"x": {"field": "day", "type": "quantitative", "scale": {"domain": [0.5, 31.5], "nice": false, "zero": false}, "axis": null},
     "y": {"datum": 3.5, "type": "quantitative", "scale": {"domain": [0, 52], "range": [48, 568], "nice": false, "zero": false}, "axis": null}, "text": {"field": "day"}}},
  {"data": {"name": "daily"}, "mark": {"type": "text", "font": "DejaVu Sans Mono", "fontSize": 8, "color": "#ff3300", "baseline": "middle", "align": "center"},
   "encoding": {"x": {"field": "day", "type": "quantitative", "scale": {"domain": [0.5, 31.5], "nice": false, "zero": false}, "axis": null},
     "y": {"datum": 50.5, "type": "quantitative", "scale": {"domain": [0, 52], "range": [48, 568], "nice": false, "zero": false}, "axis": null}, "text": {"field": "day"}}},
  {"data": {"name": "month"}, "mark": {"type": "text", "font": "DejaVu Sans", "fontSize": 11, "fontWeight": "bold", "color": "#ff3300", "baseline": "middle", "align": "center"},
   "encoding": {"x": {"datum": 15.5, "type": "quantitative", "scale": {"domain": [0.5, 31.5], "nice": false, "zero": false}, "axis": null},
     "y": {"datum": 1.5, "type": "quantitative", "scale": {"domain": [0, 52], "range": [48, 568], "nice": false, "zero": false}, "axis": null}, "text": {"field": "label"}}}
]
}
